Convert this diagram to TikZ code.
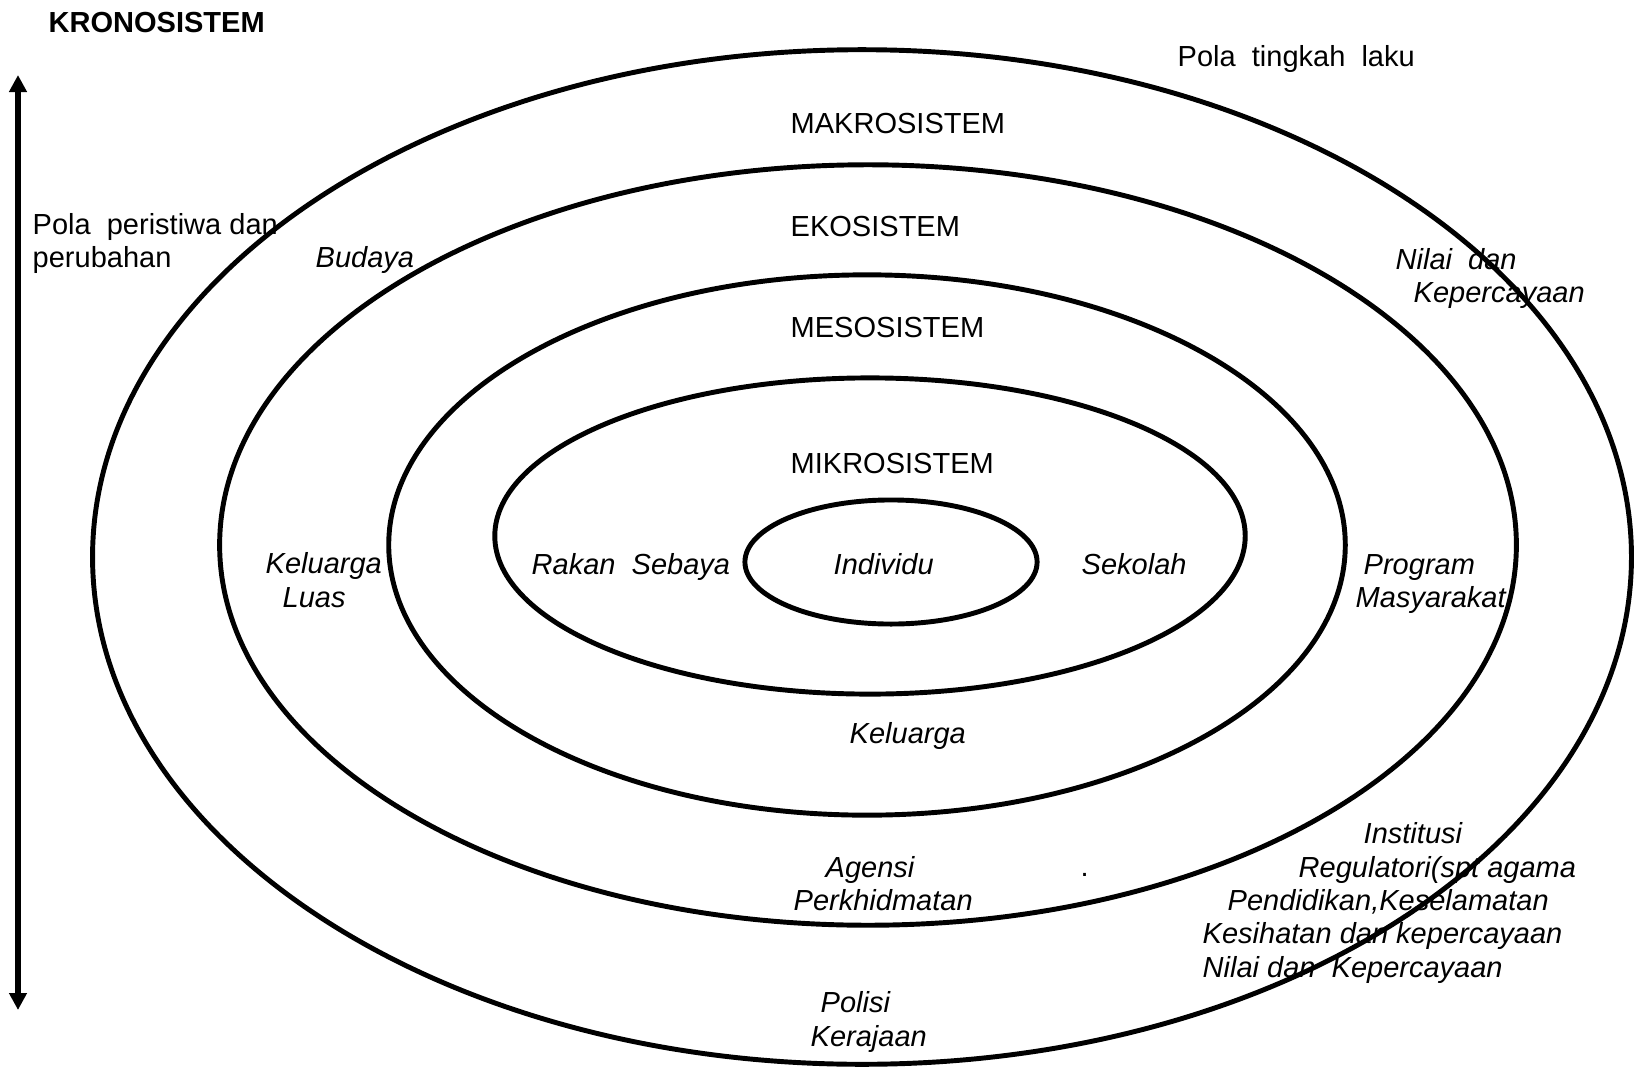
\documentclass[tikz,border=0pt]{standalone}
\usepackage{fontspec}
\setmainfont{Liberation Sans}
\usetikzlibrary{arrows.meta}

\begin{document}
\begin{tikzpicture}[
    x=0.01cm, y=-0.01cm,
    ring/.style={draw=black, line width=1.4pt},
    txt/.style={anchor=base west, inner sep=0pt, font=\fontsize{8.25}{9.5}\selectfont},
    ittxt/.style={txt, font=\fontsize{8.25}{9.5}\selectfont\itshape},
    arrow/.style={{Triangle[length=1.7mm, width=1.7mm]}-{Triangle[length=1.7mm, width=1.7mm]}, line width=1.5pt}
]
    \useasboundingbox (0,0) rectangle (1637,1073);

    % Rings
    \draw[ring] (862,557) ellipse [x radius=7.69cm, y radius=5.07cm];
    \draw[ring] (868,545) ellipse [x radius=6.48cm, y radius=3.80cm];
    \draw[ring] (867,545) ellipse [x radius=4.78cm, y radius=2.70cm];
    \draw[ring] (870,536) ellipse [x radius=3.75cm, y radius=1.58cm];
    \draw[ring] (891,562) ellipse [x radius=1.46cm, y radius=0.62cm];

    % Time axis
    \coordinate (ttop) at (18,75);
    \coordinate (tbot) at (18,1010);
    \draw[arrow] (ttop) -- (tbot);
    \node[txt, font=\fontsize{8.25}{9.5}\selectfont\bfseries] (krono) at (48,33) {KRONOSISTEM};
    \node[txt] (peristiwa) at (32,235) {Pola\ \ peristiwa dan};
    \node[txt] (perubahan) at (32,268) {perubahan};

    % Ring titles
    \node[txt] (tingkah) at (1177,67) {Pola\ \ tingkah\ \ laku};
    \node[txt] (makro) at (790,134) {MAKROSISTEM};
    \node[txt] (eko) at (790,236) {EKOSISTEM};
    \node[txt] (meso) at (790,337) {MESOSISTEM};
    \node[txt] (mikro) at (790,473) {MIKROSISTEM};

    % Mikrosistem
    \node[ittxt] (individu) at (833,574) {Individu};
    \node[ittxt] (rakan) at (531,574) {Rakan\ \ Sebaya};
    \node[ittxt] (sekolah) at (1081,574) {Sekolah};

    % Mesosistem
    \node[ittxt] (keluarga) at (849,743) {Keluarga};

    % Ekosistem
    \node[ittxt] (kluas1) at (265,573) {Keluarga};
    \node[ittxt] (kluas2) at (282,607) {Luas};
    \node[ittxt] (prog1) at (1363,574) {Program};
    \node[ittxt] (prog2) at (1355,607) {Masyarakat};
    \node[ittxt] (agensi1) at (825,877) {Agensi};
    \node[ittxt] (agensi2) at (793,910) {Perkhidmatan};
    \node[txt] (dot) at (1080,876) {.};

    % Makrosistem
    \node[ittxt] (budaya) at (315,268) {Budaya};
    \node[ittxt] (nilai1) at (1395,269) {Nilai\ \ dan};
    \node[ittxt] (nilai2) at (1413,302) {Kepercayaan};
    \node[ittxt] (polisi1) at (820,1012) {Polisi};
    \node[ittxt] (polisi2) at (810,1046) {Kerajaan};
    \node[ittxt] (inst1) at (1363,843) {Institusi};
    \node[ittxt] (inst2) at (1298,877) {Regulatori(spt agama};
    \node[ittxt] (inst3) at (1227,910) {Pendidikan,Keselamatan};
    \node[ittxt] (inst4) at (1202,943) {Kesihatan dan kepercayaan};
    \node[ittxt] (inst5) at (1202,977) {Nilai dan\ \ Kepercayaan};

\end{tikzpicture}
\end{document}
